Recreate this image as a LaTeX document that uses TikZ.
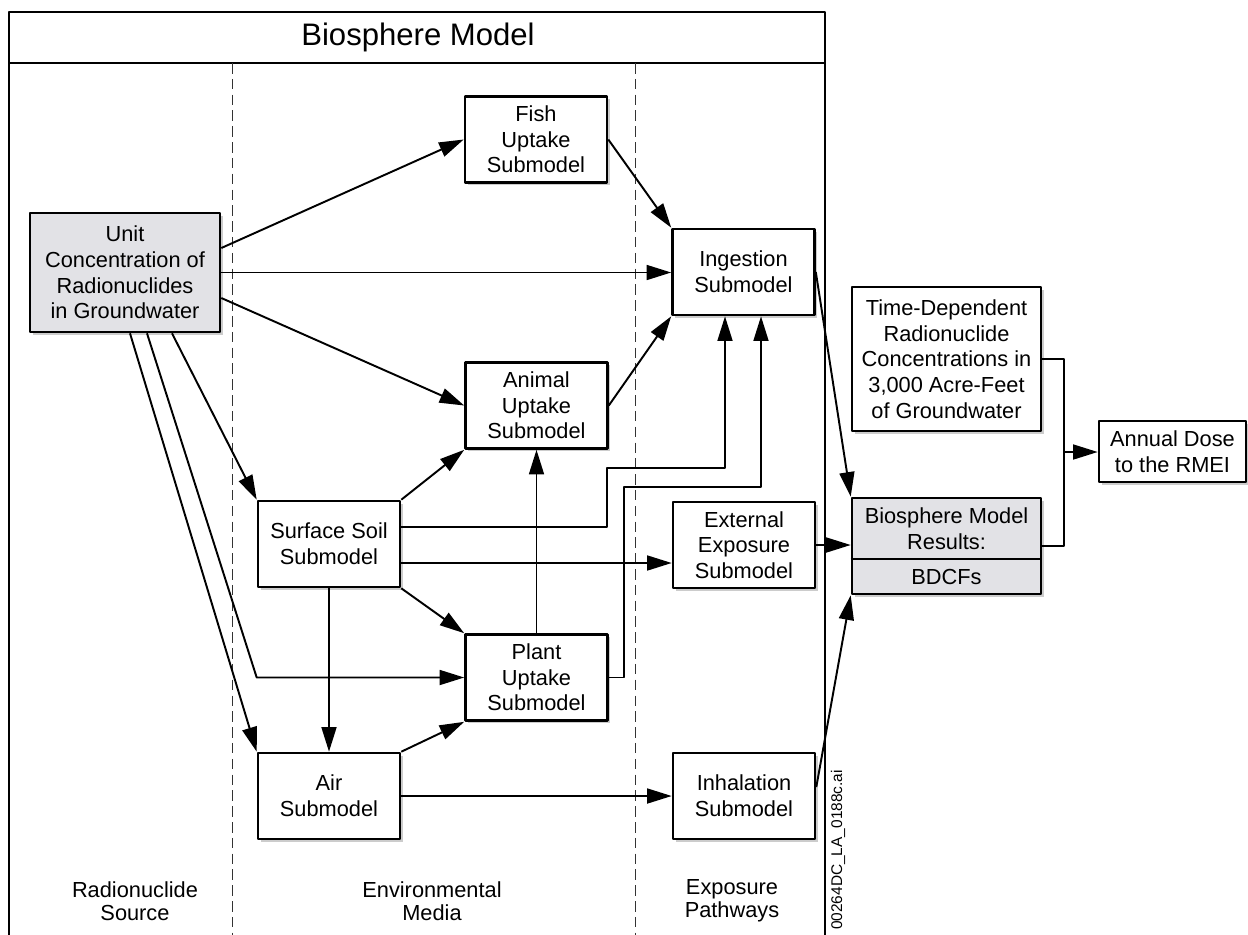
\documentclass[tikz,border=0pt]{standalone}
\usepackage{fontspec}
\setmainfont{Liberation Sans}
\usetikzlibrary{arrows.meta}
\usetikzlibrary{positioning}
\usetikzlibrary{shadows}
\definecolor{boxgray}{RGB}{226,226,230}
\tikzset{
  box/.style={draw,line width=1.5pt,fill=white,align=center,inner sep=0pt,
    minimum width=2.84cm,minimum height=1.72cm,
    drop shadow={shadow xshift=1.6pt,shadow yshift=-1.6pt,fill=black!40},
    font=\fontsize{12.4}{14.6}\selectfont},
  graybox/.style={box,fill=boxgray},
  lbl/.style={align=center,inner sep=0pt,font=\fontsize{12.4}{13}\selectfont},
  conn/.style={line width=1.1pt,->},
  divider/.style={dash pattern=on 6pt off 3pt,line width=0.5pt,black!80}
}
\begin{document}
\begin{tikzpicture}[line join=round,>={Triangle[length=14pt,width=8.5pt]},x=0.02cm,y=-0.02cm]
\useasboundingbox (0,0) rectangle (1248,934);
% frame and columns
\draw[line width=1.2pt] (9,940) -- (9,12) -- (825,12) -- (825,940);
\draw[line width=1.2pt] (9,63) -- (825,63);
\draw[divider] (232,63) -- (232,940);
\draw[divider] (635,63) -- (635,940);
\node (title) at (418,37) {\fontsize{17.7}{20}\selectfont Biosphere Model};
\node[lbl] (src) at (135,901) {Radionuclide\\Source};
\node[lbl] (env) at (432,901) {Environmental\\Media};
\node[lbl] (exp) at (732,901) {Exposure\\Pathways};
\node[rotate=90,inner sep=0pt,font=\fontsize{8.8}{10}\selectfont] (fileid) at (838,850) {00264DC\_LA\_0188c.ai};
% boxes
\node[graybox,minimum width=3.8cm,minimum height=2.38cm] (unit) at (125,272.5) {Unit\\Concentration of\\Radionuclides\\in Groundwater};
\node[box] (fish) at (536,139.5) {Fish\\Uptake\\Submodel};
\node[box] (ing) at (743.5,272) {Ingestion\\Submodel};
\node[box] (animal) at (536.5,405.5) {Animal\\Uptake\\Submodel};
\node[box] (soil) at (329,544) {Surface Soil\\Submodel};
\node[box] (ext) at (744,545) {External\\Exposure\\Submodel};
\node[box] (plant) at (536.5,677.5) {Plant\\Uptake\\Submodel};
\node[box] (air) at (329,796) {Air\\Submodel};
\node[box] (inh) at (744,796) {Inhalation\\Submodel};
\node[box,minimum width=3.78cm,minimum height=2.88cm] (time) at (946.5,359) {Time-Dependent\\Radionuclide\\Concentrations in\\3,000 Acre-Feet\\of Groundwater};
\node[graybox,minimum width=3.78cm,minimum height=1.92cm] (res) at (946.5,546) {};
\draw[line width=1.5pt] (res.west |- 0,559) -- (res.east |- 0,559);
\node[lbl,font=\fontsize{12.4}{14.6}\selectfont] (restop) at (946.5,528.5) {Biosphere Model\\Results:};
\node[lbl,font=\fontsize{12.4}{14.6}\selectfont] (resbot) at (946.5,577) {BDCFs};
\node[box,minimum width=2.94cm,minimum height=1.22cm] (annual) at (1172.5,451.5) {Annual Dose\\to the RMEI};
% helper points
\coordinate (s1) at (607,468);
\coordinate (s2) at (725,468);
\coordinate (p1) at (624,487);
\coordinate (p2) at (761,487);
\coordinate (se) at ([yshift=-0.38cm]soil.east);
\coordinate (jn) at (1064,452);
% connectors
\draw[conn] ([yshift=0.49cm]unit.east) -- (fish.west);
\draw[conn] (unit.east) -- (unit.east -| ing.west);
\draw[conn] ([yshift=-0.51cm]unit.east) -- (animal.west);
\draw[conn] ([xshift=0.94cm]unit.south) -- (soil.north west);
\draw[conn] ([xshift=0.44cm]unit.south) -- (soil.west |- plant.west) -- (plant.west);
\draw[conn] ([xshift=0.1cm]unit.south) -- (air.north west);
\draw[conn] (fish.east) -- (ing.north west);
\draw[conn] (animal.east) -- (ing.south west);
\draw[conn] (soil.north east) -- (animal.south west);
\draw[conn] ([yshift=0.34cm]soil.east) -| (s1) -- (s2) -- (s2 |- ing.south);
\draw[conn] (se) -- (se -| ext.west);
\draw[conn] (soil.south east) -- (plant.north west);
\draw[conn] (soil.south) -- (air.north);
\draw[conn] (plant.north) -- (animal.south);
\draw[conn] (plant.east) -| (p1) -- (p2) -- (p2 |- ing.south);
\draw[conn] (air.north east) -- (plant.south west);
\draw[conn] (air.east) -- (inh.west);
\draw[conn] (ing.east) -- (res.north west);
\draw[conn] (ext.east) -- (ext.east -| res.west);
\draw[conn] ([yshift=0.18cm]inh.east) -- (res.south west);
\draw[line width=1.1pt] (time.east) -| (jn) |- (res.east);
\draw[conn] (jn) -- (jn -| annual.west);
\end{tikzpicture}
\end{document}
